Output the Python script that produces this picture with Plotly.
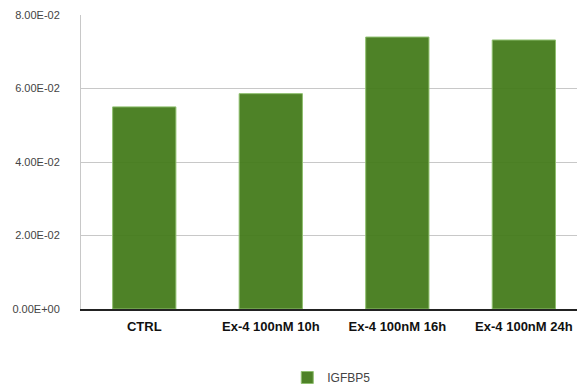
import plotly.graph_objects as go

# Expression levels per treatment
categories = ["CTRL", "Ex-4 100nM 10h", "Ex-4 100nM 16h", "Ex-4 100nM 24h"]
igfbp5 = [0.0550, 0.0586, 0.0740, 0.0732]

# Value-axis ticks in scientific notation
tick_values = [0.0, 0.02, 0.04, 0.06, 0.08]
tick_labels = ["0.00E+00", "2.00E-02", "4.00E-02", "6.00E-02", "8.00E-02"]

fig = go.Figure()
fig.add_trace(go.Bar(
    x=categories,
    y=igfbp5,
    name="IGFBP5",
    width=0.5,
    marker=dict(color="rgba(68,123,27,0.95)", line=dict(color="#8fbf6f", width=1)),
    showlegend=True,
))

fig.update_layout(
    width=577,
    height=392,
    margin=dict(l=81, r=0, t=15, b=83),
    paper_bgcolor="white",
    plot_bgcolor="white",
    bargap=0.5,
    font=dict(family="Liberation Sans, Arial, sans-serif", color="#333"),
    showlegend=True,
    legend=dict(
        orientation="h",
        x=0.575, xanchor="center", xref="container",
        y=0.0, yanchor="bottom", yref="container",
        font=dict(size=12, color="#444"),
        itemwidth=30,
    ),
    xaxis=dict(
        range=[-0.5, 3.42],
        showgrid=False,
        showline=True,
        linecolor="#222",
        linewidth=1.5,
        ticks="",
        ticklabelstandoff=5,
        tickfont=dict(size=13, color="#111", family="Liberation Sans, Arial, sans-serif"),
        tickprefix="<b>", ticksuffix="</b>",
    ),
    yaxis=dict(
        range=[0, 0.08],
        tickvals=tick_values,
        ticktext=tick_labels,
        showgrid=True,
        gridcolor="#c8c8c8",
        gridwidth=1,
        showline=True,
        linecolor="#c8c8c8",
        zeroline=False,
        ticks="",
        ticklabelstandoff=18,
        tickfont=dict(size=11, color="#444"),
    ),
)

fig.write_html("out.html")
